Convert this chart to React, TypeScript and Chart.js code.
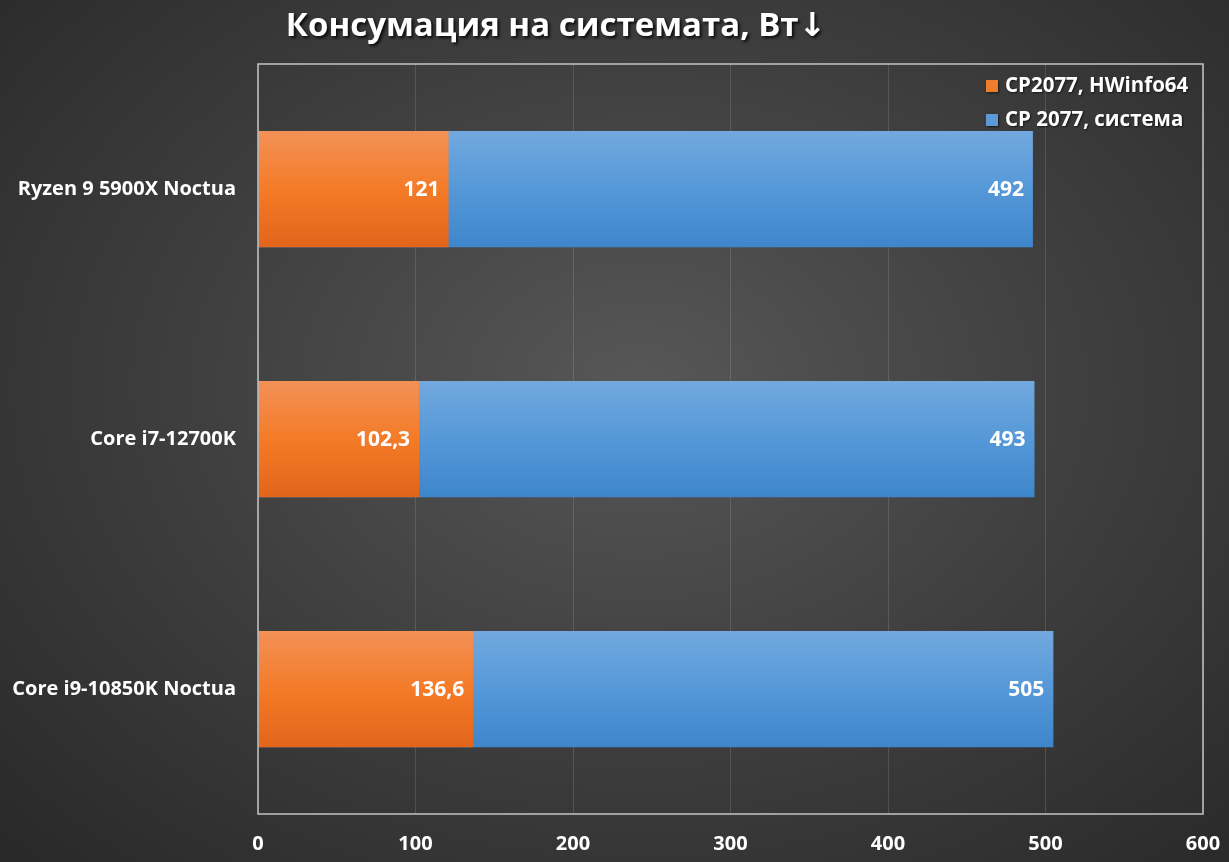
import React, { useEffect, useRef } from "react";
import { Chart, registerables } from "chart.js";

Chart.register(...registerables);

// chart data
const categories = ["Ryzen 9 5900X Noctua", "Core i7-12700K", "Core i9-10850K Noctua"];
const hwinfoValues = [121, 102.3, 136.6];
const systemValues = [492, 493, 505];
const seriesLabels = ["CP2077, HWinfo64", "CP 2077, система"];
const chartTitle = "Консумация на системата, Вт↓";

const FONT = "'Open Sans', 'DejaVu Sans', sans-serif";

const fmt = (v: number) => String(v).replace(".", ",");

// vertical gradient for every bar, built from the bar's own y position
const barGradient = (top: string, mid: string, bottom: string) => (ctx: any) => {
    const chart = ctx.chart;
    const yScale = chart.scales && chart.scales.y;
    if (!yScale || ctx.dataIndex === undefined) return mid;
    const center = yScale.getPixelForValue(ctx.dataIndex);
    const half = ((yScale.bottom - yScale.top) / categories.length) * 0.465 / 2;
    if (!isFinite(center) || !isFinite(half) || half <= 0) return mid;
    const g = chart.ctx.createLinearGradient(0, center - half, 0, center + half);
    g.addColorStop(0, top);
    g.addColorStop(0.5, mid);
    g.addColorStop(1, bottom);
    return g;
};

const App: React.FC = () => {
    const canvasRef = useRef<HTMLCanvasElement | null>(null);

    useEffect(() => {
        document.body.style.margin = "0";
        if (!canvasRef.current) return;

        // draws frame, title, legend and value labels
        const decorations = {
            id: "decorations",
            afterDraw: (chart: any) => {
                const ctx = chart.ctx;
                const area = chart.chartArea;
                ctx.save();
                // frame
                ctx.strokeStyle = "#c4c4c4";
                ctx.lineWidth = 1.5;
                ctx.strokeRect(area.left, area.top, area.right - area.left, area.bottom - area.top);

                // value labels
                ctx.fillStyle = "#ffffff";
                ctx.font = `bold 21px ${FONT}`;
                ctx.textAlign = "right";
                ctx.textBaseline = "middle";
                chart.data.datasets.forEach((ds: any, di: number) => {
                    const meta = chart.getDatasetMeta(di);
                    meta.data.forEach((bar: any, i: number) => {
                        ctx.fillText(fmt(ds.data[i]), bar.x - 9, bar.y + 1);
                    });
                });

                // title
                ctx.shadowColor = "rgba(0,0,0,0.8)";
                ctx.shadowOffsetX = 2;
                ctx.shadowOffsetY = 2;
                ctx.shadowBlur = 3;
                ctx.font = `bold 33px ${FONT}`;
                ctx.textAlign = "center";
                ctx.fillText(chartTitle, 556, 27);

                // legend
                ctx.shadowColor = "rgba(0,0,0,0.6)";
                ctx.shadowOffsetX = 1;
                ctx.shadowOffsetY = 1;
                ctx.shadowBlur = 2;
                ctx.font = `bold 20.5px ${FONT}`;
                ctx.textAlign = "left";
                const legendColors = ["#f07c2e", "#5a9ad8"];
                seriesLabels.forEach((label, i) => {
                    const y = 86 + i * 34;
                    ctx.fillStyle = legendColors[i];
                    ctx.fillRect(986, y - 6, 12, 12);
                    ctx.fillStyle = "#ffffff";
                    ctx.fillText(label, 1005, y);
                });
                ctx.restore();
            },
        };

        const chart = new Chart(canvasRef.current, {
            type: "bar",
            data: {
                labels: categories,
                datasets: [
                    {
                        label: seriesLabels[0],
                        data: hwinfoValues,
                        backgroundColor: barGradient("#f39157", "#f47b28", "#e2651a"),
                        grouped: false,
                        barPercentage: 0.465,
                        categoryPercentage: 1,
                    },
                    {
                        label: seriesLabels[1],
                        data: systemValues,
                        backgroundColor: barGradient("#72a9df", "#5598d8", "#3e86cb"),
                        grouped: false,
                        barPercentage: 0.465,
                        categoryPercentage: 1,
                    },
                ],
            } as any,
            plugins: [decorations],
            options: {
                indexAxis: "y",
                animation: false,
                responsive: false,
                layout: { padding: { top: 64, right: 26, left: 0, bottom: 0 } },
                plugins: {
                    legend: { display: false },
                    tooltip: { enabled: false },
                    title: { display: false },
                },
                scales: {
                    x: {
                        min: 0,
                        max: 600,
                        ticks: {
                            stepSize: 100,
                            color: "#ffffff",
                            font: { family: FONT, size: 20, weight: "bold" },
                            padding: 18,
                        },
                        grid: { color: "rgba(255,255,255,0.13)", drawTicks: false },
                        border: { display: false },
                        afterFit: (s: any) => {
                            s.height = 48;
                            s.paddingRight = 0;
                            s.paddingLeft = 0;
                        },
                    },
                    y: {
                        ticks: {
                            color: "#ffffff",
                            font: { family: FONT, size: 20, weight: "bold" },
                            padding: 22,
                        },
                        grid: { display: false, drawTicks: false },
                        border: { display: false },
                        afterFit: (s: any) => {
                            s.width = 258;
                            s.paddingTop = 0;
                            s.paddingBottom = 0;
                        },
                    },
                },
            } as any,
        });

        return () => chart.destroy();
    }, []);

    return (
        <div
            style={{
                width: 1229,
                height: 862,
                background: "radial-gradient(ellipse 75% 80% at 52% 45%, #575757 0%, #3e3e3e 50%, #272727 100%)",
            }}
        >
            <canvas ref={canvasRef} width={1229} height={862} />
        </div>
    );
};

export default App;
